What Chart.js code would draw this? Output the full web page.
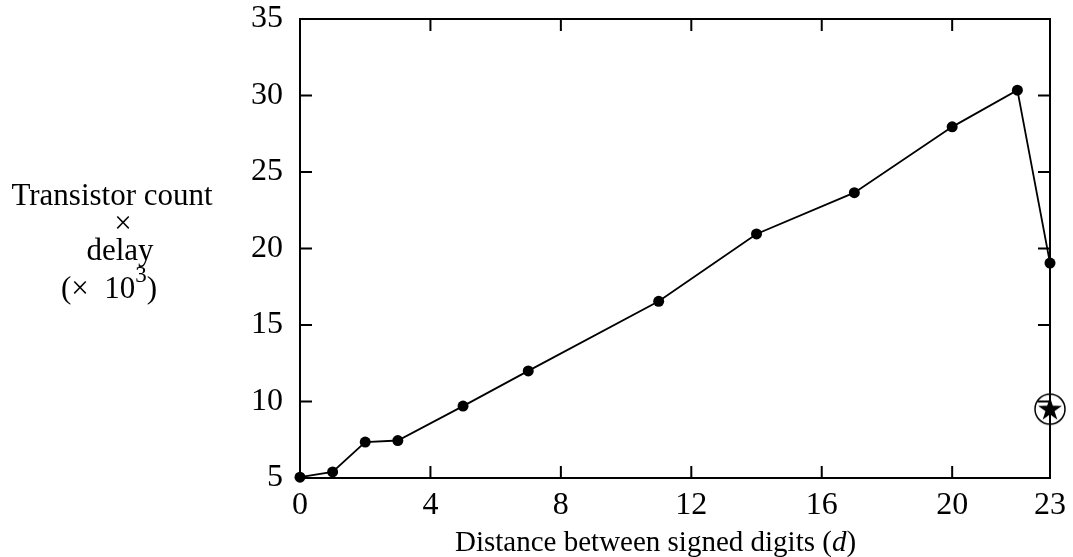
<!DOCTYPE html>
<html>
<head>
<meta charset="utf-8">
<script src="https://cdn.jsdelivr.net/npm/chart.js@4.4.0/dist/chart.umd.min.js"></script>
<style>
  html, body { margin: 0; padding: 0; background: #fff; }
  #wrap { width: 1073px; height: 557px; }
</style>
</head>
<body>
<div id="wrap"><canvas id="chart"></canvas></div>
<script>
// Data
const distances = [0, 1, 2, 3, 5, 7, 11, 14, 17, 20, 22, 23];
const costValues = [5.05, 5.4, 7.35, 7.45, 9.7, 12.0, 16.55, 20.95, 23.65, 27.95, 30.35, 19.05];
const bestDistance = [23];
const bestValue = [9.5];
const xTickValues = [0, 4, 8, 12, 16, 20, 23];
const yTickValues = [5, 10, 15, 20, 25, 30, 35];

const serif = "'Liberation Serif', 'Times New Roman', serif";

// circled star marker for the single special point
function makeStarMarker() {
    const c = document.createElement('canvas');
    c.width = 36; c.height = 36;
    const g = c.getContext('2d');
    g.strokeStyle = '#000';
    g.lineWidth = 1.5;
    g.beginPath();
    g.arc(18, 18, 15, 0, Math.PI * 2);
    g.stroke();
    g.fillStyle = '#000';
    g.beginPath();
    for (let i = 0; i < 10; i++) {
        const r = i % 2 === 0 ? 12.5 : 4.8;
        const a = -Math.PI / 2 + i * Math.PI / 5;
        const px = 18 + r * Math.cos(a), py = 18.5 + r * Math.sin(a);
        if (i === 0) g.moveTo(px, py); else g.lineTo(px, py);
    }
    g.closePath();
    g.fill();
    return c;
}

// frame, inward tick marks and the axis titles
const framePlugin = {
    id: 'frame',
    afterDraw(chart) {
        const ctx = chart.ctx;
        const a = chart.chartArea;
        const x = chart.scales.x, y = chart.scales.y;
        ctx.save();
        ctx.strokeStyle = '#000';
        ctx.lineWidth = 2;
        ctx.strokeRect(a.left, a.top, a.right - a.left, a.bottom - a.top);
        ctx.beginPath();
        xTickValues.forEach(v => {
            const px = x.getPixelForValue(v);
            ctx.moveTo(px, a.bottom); ctx.lineTo(px, a.bottom - 12);
            ctx.moveTo(px, a.top); ctx.lineTo(px, a.top + 12);
        });
        yTickValues.forEach(v => {
            const py = y.getPixelForValue(v);
            ctx.moveTo(a.left, py); ctx.lineTo(a.left + 12, py);
            ctx.moveTo(a.right, py); ctx.lineTo(a.right - 12, py);
        });
        ctx.stroke();

        ctx.fillStyle = '#000';
        ctx.textBaseline = 'alphabetic';
        ctx.textAlign = 'center';
        ctx.font = '31px ' + serif;
        ctx.fillText('Transistor count', 112, 205);
        ctx.fillText('\u00d7', 123, 233);
        ctx.fillText('delay', 120, 260);
        ctx.textAlign = 'left';
        ctx.fillText('(\u00d7  10', 61, 298);
        const w1 = ctx.measureText('(\u00d7  10').width;
        ctx.font = '23px ' + serif;
        ctx.fillText('3', 61 + w1, 282);
        const w2 = ctx.measureText('3').width;
        ctx.font = '31px ' + serif;
        ctx.fillText(')', 61 + w1 + w2, 298);

        // x title with italic d
        const part1 = 'Distance between signed digits (';
        ctx.font = '29px ' + serif;
        let tx = 455;
        ctx.fillText(part1, tx, 551);
        tx += ctx.measureText(part1).width;
        ctx.font = 'italic 29px ' + serif;
        ctx.fillText('d', tx, 551);
        tx += ctx.measureText('d').width;
        ctx.font = '29px ' + serif;
        ctx.fillText(')', tx, 551);
        ctx.restore();
    }
};

const ctx = document.getElementById('chart').getContext('2d');
new Chart(ctx, {
    type: 'scatter',
    data: {
        datasets: [{
            data: distances.map((d, i) => ({ x: d, y: costValues[i] })),
            showLine: true,
            borderColor: '#000',
            borderWidth: 1.8,
            backgroundColor: '#000',
            pointRadius: 5.5,
            pointBackgroundColor: '#000',
            pointBorderWidth: 0,
            clip: false
        }, {
            data: bestDistance.map((d, i) => ({ x: d, y: bestValue[i] })),
            showLine: false,
            pointStyle: makeStarMarker(),
            pointRadius: 18,
            clip: false
        }]
    },
    plugins: [framePlugin],
    options: {
        responsive: true,
        maintainAspectRatio: false,
        animation: false,
        layout: { padding: { top: 18, right: 23, left: 0, bottom: 0 } },
        plugins: { legend: { display: false }, tooltip: { enabled: false } },
        scales: {
            x: {
                type: 'linear',
                min: 0,
                max: 23,
                afterBuildTicks: s => { s.ticks = xTickValues.map(v => ({ value: v })); },
                afterFit: s => { s.height = 79; s.paddingLeft = 0; s.paddingRight = 0; },
                grid: { display: false, drawTicks: false },
                border: { display: false },
                ticks: { color: '#000', font: { family: serif, size: 32 }, padding: 8, maxRotation: 0, autoSkip: false }
            },
            y: {
                type: 'linear',
                min: 5,
                max: 35,
                afterBuildTicks: s => { s.ticks = yTickValues.map(v => ({ value: v })); },
                afterFit: s => { s.width = 300; s.paddingTop = 0; s.paddingBottom = 0; },
                grid: { display: false, drawTicks: false },
                border: { display: false },
                ticks: { color: '#000', font: { family: serif, size: 32 }, padding: 17 }
            }
        }
    }
});
</script>
</body>
</html>
